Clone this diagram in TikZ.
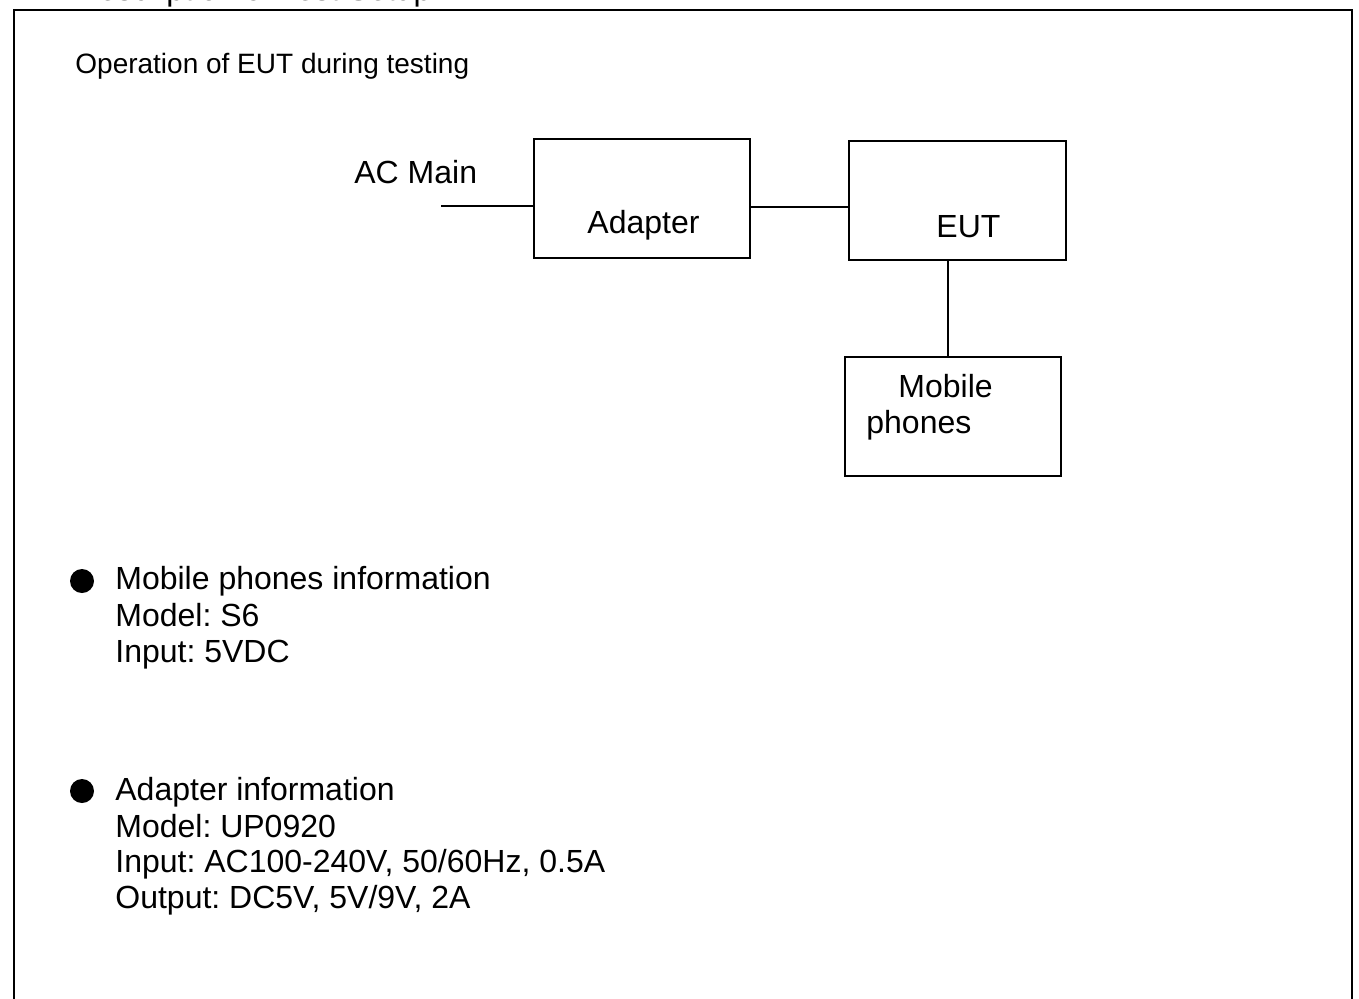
\documentclass[tikz,border=0pt]{standalone}
\usepackage{fontspec}
\setmainfont{Liberation Sans}
\frenchspacing
\begin{document}
\begin{tikzpicture}[x=0.5pt, y=-0.5pt,
    unitbox/.style={draw, line width=0.9pt, minimum width=108pt, minimum height=59.5pt, inner sep=0pt},
    txt/.style={anchor=base west, inner sep=0pt, font=\fontsize{16}{19}\selectfont},
    wire/.style={line width=0.9pt},
    bulletdot/.style={circle, fill, inner sep=0pt, minimum size=12pt}]
\clip (0,0) rectangle (1359,998);
\useasboundingbox (0,0) rectangle (1359,998);

% heading and frame
\node[txt] (heading) at (22,0.5) {2.4 Description of Test Setup};
\draw[line width=1.35pt] (14,1010) -- (14,10) -- (1352,10) -- (1352,1010);
\node[txt, font=\fontsize{14}{17}\selectfont] (caption) at (75,73) {Operation of EUT during testing};

% setup
\node[unitbox] (adapter) at (642,198.5) {};
\node[unitbox, minimum width=108.5pt] (eut) at (957.5,200.5) {};
\node[unitbox] (mobile) at (953,416.5) {};

\node[txt] (acmain) at (354,183) {AC Main};
\node[txt] (adaptertxt) at (587,233) {Adapter};
\node[txt] (euttxt) at (936,237) {EUT};
\node[txt] (mobiletxt) at (898,397) {Mobile};
\node[txt] (phonestxt) at (866,433) {phones};

\coordinate (acin) at (441,206);
\coordinate (link) at (752,207);
\coordinate (drop) at (948,0);
\draw[wire] (acin) -- (acin -| adapter.west);
\draw[wire] (link -| adapter.east) -- (link -| eut.west);
\draw[wire] (drop |- eut.south) -- (drop |- mobile.north);

% information
\node[bulletdot] (b1) at (82,581) {};
\node[txt] (m1) at (115,589) {Mobile phones information};
\node[txt] (m2) at (115,626) {Model: S6};
\node[txt] (m3) at (115,662) {Input: 5VDC};

\node[bulletdot] (b2) at (82,791) {};
\node[txt] (a1) at (115,800) {Adapter information};
\node[txt] (a2) at (115,837) {Model: UP0920};
\node[txt] (a3) at (115,872) {Input: AC100-240V, 50/60Hz, 0.5A};
\node[txt] (a4) at (115,908) {Output: DC5V, 5V/9V, 2A};
\end{tikzpicture}
\end{document}
